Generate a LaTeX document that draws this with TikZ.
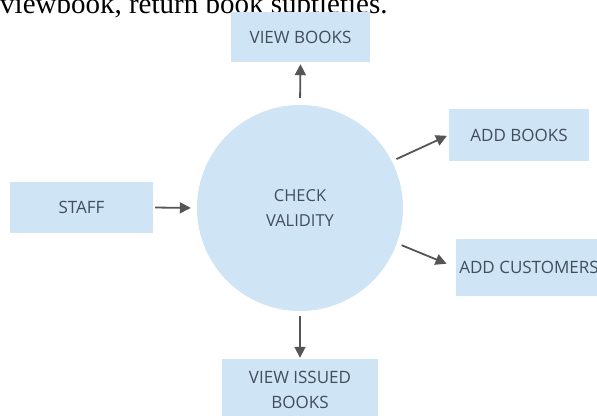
\documentclass[tikz,border=0pt]{standalone}
\usepackage{fontspec}
\setmainfont{Liberation Serif}
\newfontfamily\boxfont{Open Sans}
\usepackage{xcolor}
\usepackage{tikz}
\usetikzlibrary{positioning,shapes,arrows.meta}

\definecolor{procblue}{RGB}{207,228,244}
\definecolor{proctext}{RGB}{64,78,94}
\definecolor{flowgray}{RGB}{85,85,85}

\begin{document}
\begin{tikzpicture}[
            x=1pt, y=-1pt,
            box/.style={rectangle, fill=procblue, inner sep=0pt, align=center,
                text=proctext, font=\boxfont\fontsize{17}{25}\selectfont},
            proc/.style={circle, fill=procblue, inner sep=0pt, minimum size=206pt,
                align=center, text=proctext, font=\boxfont\fontsize{16.5}{25}\selectfont},
            flow/.style={draw=flowgray, line width=1.8pt, -{Triangle[length=11pt,width=11pt]}},
            auto
        ]
            \useasboundingbox (0,0) rectangle (597,415);
            % Text line above the picture
            \node[anchor=base west, inner sep=0pt, font=\fontsize{29}{34}\selectfont] (caption) at (0,13) {viewbook, return book subtleties.};
            % Process
            \node[proc] (check) at (300,208) {CHECK\\VALIDITY};
            % Entities
            \node[box, minimum width=139pt, minimum height=50pt] (vbooks) at (300.5,37) {VIEW BOOKS};
            \node[box, minimum width=140pt, minimum height=52pt] (abooks) at (519,135) {ADD BOOKS};
            \node[box, minimum width=146pt, minimum height=57pt] (acust) at (529,267.5) {ADD CUSTOMERS};
            \node[box, minimum width=143pt, minimum height=51pt] (staff) at (81.5,207.5) {STAFF};
            \node[box, minimum width=156pt, minimum height=62pt] (vissued) at (300,390) {VIEW ISSUED\\BOOKS};
            % Flows
            \draw[flow, shorten <=7pt, shorten >=2pt] (check.north) -- (vbooks.south); % to view books
            \draw[flow, shorten <=5pt, shorten >=2pt] (check.27) -- (abooks.west); % to add books
            \draw[flow, shorten <=5pt, shorten >=10pt] (check.-20) -- (acust.west); % to add customers
            \draw[flow, shorten <=2pt, shorten >=6pt] (staff.east) -- (check.west); % from staff
            \draw[flow, shorten <=5pt, shorten >=1pt] (check.south) -- (vissued.north); % to view issued books
        \end{tikzpicture}
\end{document}
